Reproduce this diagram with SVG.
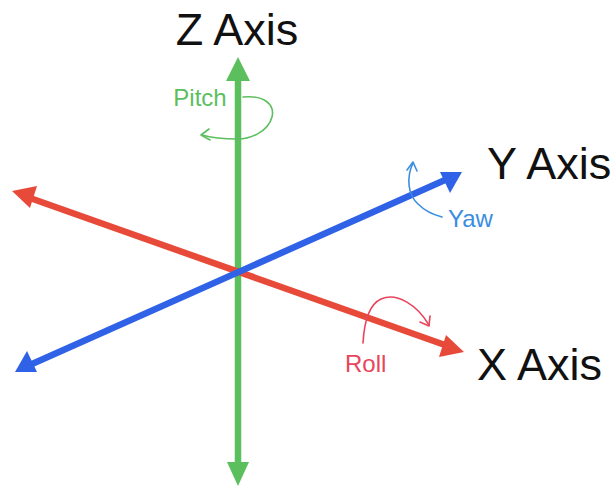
<svg xmlns="http://www.w3.org/2000/svg" width="613" height="489" viewBox="0 0 613 489">
<style>
.axis{stroke-width:6.5;fill:none}
.lbl{font-family:"Helvetica Neue","Liberation Sans",Arial,sans-serif;fill:#111;font-size:45px}
.small{font-family:"Helvetica Neue","Liberation Sans",Arial,sans-serif;font-size:24px}
.rot{fill:none;stroke-width:1.6;stroke-linecap:round;stroke-linejoin:round}
</style>
<rect width="613" height="489" fill="#fff"/>
<g id="connectors">
<g id="z-axis">
<line class="axis" x1="238" y1="78" x2="238" y2="465" stroke="#5cbf5e"/>
<polygon points="238,57 250,81 226,81" fill="#5cbf5e"/>
<polygon points="238,486 249,462 227,462" fill="#5cbf5e"/>
</g>
<g id="x-axis">
<line class="axis" x1="30" y1="198" x2="445" y2="345" stroke="#e84a3a"/>
<polygon points="12,191 37,186 30,208" fill="#e84a3a"/>
<polygon points="464,352 439,357 446,335" fill="#e84a3a"/>
</g>
<g id="y-axis">
<line class="axis" x1="32" y1="364" x2="445" y2="180" stroke="#2f62e6"/>
<polygon points="15,372 27,351 37,372" fill="#2f62e6"/>
<polygon points="462,172 450,193 440,172" fill="#2f62e6"/>
</g>
</g>
<g id="pitch">
<path class="rot" stroke="#5cbf5e" d="M243,97 C265,95 275,105 272,117 C268,132 250,139 238,139 C225,139 212,138 202,135"/>
<path class="rot" stroke="#5cbf5e" d="M209,129 L201,135 L210,140"/>
<text class="small" x="200" y="106" fill="#5cbf5e" text-anchor="middle">Pitch</text>
</g>
<g id="yaw">
<path class="rot" stroke="#3a8ee2" d="M413,163 C406,178 408,195 418,204 C425,211 434,215 442,217"/>
<path class="rot" stroke="#3a8ee2" d="M407,170 L413,162 L417,171"/>
<text class="small" x="448" y="227" fill="#3a8ee2">Yaw</text>
</g>
<g id="roll">
<path class="rot" stroke="#e8455c" d="M363,343 C364,325 368,305 381,299 C397,292 417,305 429,325"/>
<path class="rot" stroke="#e8455c" d="M420,322 L429,326 L430,316"/>
<text class="small" x="345" y="372" fill="#e8455c">Roll</text>
</g>
<g id="labels">
<text class="lbl" x="237" y="45" text-anchor="middle">Z Axis</text>
<text class="lbl" x="487" y="179">Y Axis</text>
<text class="lbl" x="477" y="380">X Axis</text>
</g>
</svg>
